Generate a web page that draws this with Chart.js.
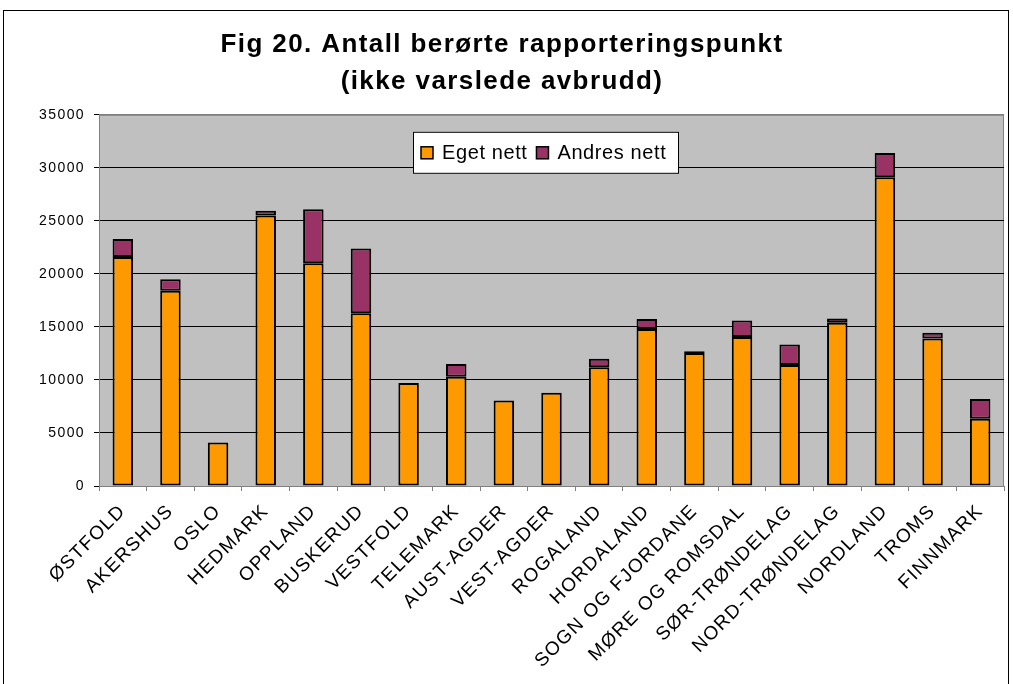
<!DOCTYPE html>
<html>
<head>
<meta charset="utf-8">
<script src="https://cdn.jsdelivr.net/npm/chart.js@4/dist/chart.umd.min.js"></script>
<style>
  body { margin: 0; background: #fff; }
  #wrap { width: 1013px; height: 684px; position: relative; }
</style>
</head>
<body>
<div id="wrap"><canvas id="fig20"></canvas></div>
<script>
const fylker = ['ØSTFOLD', 'AKERSHUS', 'OSLO', 'HEDMARK', 'OPPLAND', 'BUSKERUD', 'VESTFOLD',
  'TELEMARK', 'AUST-AGDER', 'VEST-AGDER', 'ROGALAND', 'HORDALAND', 'SOGN OG FJORDANE',
  'MØRE OG ROMSDAL', 'SØR-TRØNDELAG', 'NORD-TRØNDELAG', 'NORDLAND', 'TROMS', 'FINNMARK'];

const egetNett = [21600, 18400, 4100, 25500, 21000, 16300, 9700, 10300, 8050, 8800,
  11200, 14800, 12550, 14050, 11400, 15400, 29100, 13900, 6350];

const andresNett = [1700, 1100, 0, 450, 5100, 6100, 0, 1200, 0, 0,
  800, 950, 150, 1550, 1950, 400, 2300, 550, 1850];

const yTicks = [0, 5000, 10000, 15000, 20000, 25000, 30000, 35000];

const fontFam = '"Liberation Sans", Arial, sans-serif';

// excel-ish spaced text + grey plot area + outer frame
const plotBg = {
  id: 'plotBg',
  beforeUpdate(chart) { chart.ctx.letterSpacing = '1.4px'; },
  beforeDraw(chart) {
    const ctx = chart.ctx, a = chart.chartArea;
    ctx.letterSpacing = '1.4px';
    ctx.save();
    ctx.strokeStyle = '#000';
    ctx.lineWidth = 1;
    ctx.strokeRect(3.5, 10.5, 1005, 700);
    ctx.fillStyle = '#c0c0c0';
    ctx.fillRect(a.left, a.top, a.right - a.left, a.bottom - a.top);
    ctx.strokeStyle = '#808080';
    ctx.strokeRect(a.left + 0.5, a.top + 0.5, a.right - a.left - 1, a.bottom - a.top);
    ctx.restore();
  }
};

// legend box sitting inside the plot
const boxLegend = {
  id: 'boxLegend',
  afterDraw(chart) {
    const ctx = chart.ctx, a = chart.chartArea;
    const x0 = a.left + 314, y0 = a.top + 17, w = 266, h = 42;
    ctx.save();
    ctx.letterSpacing = '0.6px';
    ctx.fillStyle = '#fff';
    ctx.fillRect(x0, y0, w, h);
    ctx.strokeStyle = '#000';
    ctx.lineWidth = 1;
    ctx.strokeRect(x0 + 0.5, y0 + 0.5, w - 1, h - 1);
    ctx.font = '20px ' + fontFam;
    ctx.textBaseline = 'middle';
    let x = x0 + 8;
    const cy = y0 + h / 2;
    chart.data.datasets.forEach(ds => {
      ctx.fillStyle = ds.backgroundColor;
      ctx.fillRect(x, cy - 6, 12, 12);
      ctx.lineWidth = 1.5;
      ctx.strokeRect(x, cy - 6, 12, 12);
      ctx.fillStyle = '#000';
      ctx.fillText(ds.label, x + 21, cy + 1);
      x += 21 + ctx.measureText(ds.label).width + 9;
    });
    ctx.restore();
  }
};

new Chart(document.getElementById('fig20'), {
  type: 'bar',
  data: {
    labels: fylker,
    datasets: [
      {
        label: 'Eget nett',
        data: egetNett,
        backgroundColor: '#ff9900',
        borderColor: '#000',
        borderWidth: 2,
        borderSkipped: false
      },
      {
        label: 'Andres nett',
        data: andresNett,
        backgroundColor: '#993366',
        borderColor: '#000',
        borderWidth: 2,
        borderSkipped: false
      }
    ]
  },
  options: {
    responsive: true,
    maintainAspectRatio: false,
    animation: false,
    layout: { padding: { left: 0, right: 9, top: 0, bottom: 0 } },
    datasets: { bar: { categoryPercentage: 1, barPercentage: 0.43 } },
    plugins: {
      legend: { display: false },
      tooltip: { enabled: false },
      title: {
        display: true,
        text: ['Fig 20. Antall berørte rapporteringspunkt', '(ikke varslede avbrudd)'],
        color: '#000',
        font: { family: fontFam, size: 26, weight: 'bold', lineHeight: 1.4 },
        padding: { top: 27, bottom: 15 }
      }
    },
    scales: {
      x: {
        stacked: true,
        afterFit(axis) { axis.height = 198; },
        grid: { drawOnChartArea: false, drawTicks: true, tickLength: 5, color: '#808080' },
        border: { color: '#808080' },
        ticks: {
          minRotation: 45, maxRotation: 45, autoSkip: false,
          padding: 9,
          color: '#000',
          font: { family: fontFam, size: 19 }
        }
      },
      y: {
        stacked: true,
        min: 0, max: 35000,
        afterFit(axis) { axis.width = 99; },
        afterBuildTicks(axis) { axis.ticks = yTicks.map(v => ({ value: v })); },
        grid: {
          color: c => (c.tick && (c.tick.value === 35000 || c.tick.value === 0)) ? '#808080' : '#000',
          tickColor: '#000',
          tickLength: 5
        },
        border: { color: '#808080' },
        ticks: {
          padding: 9,
          color: '#000',
          font: { family: fontFam, size: 14 },
          callback: v => String(v)
        }
      }
    }
  },
  plugins: [plotBg, boxLegend]
});
</script>
</body>
</html>
